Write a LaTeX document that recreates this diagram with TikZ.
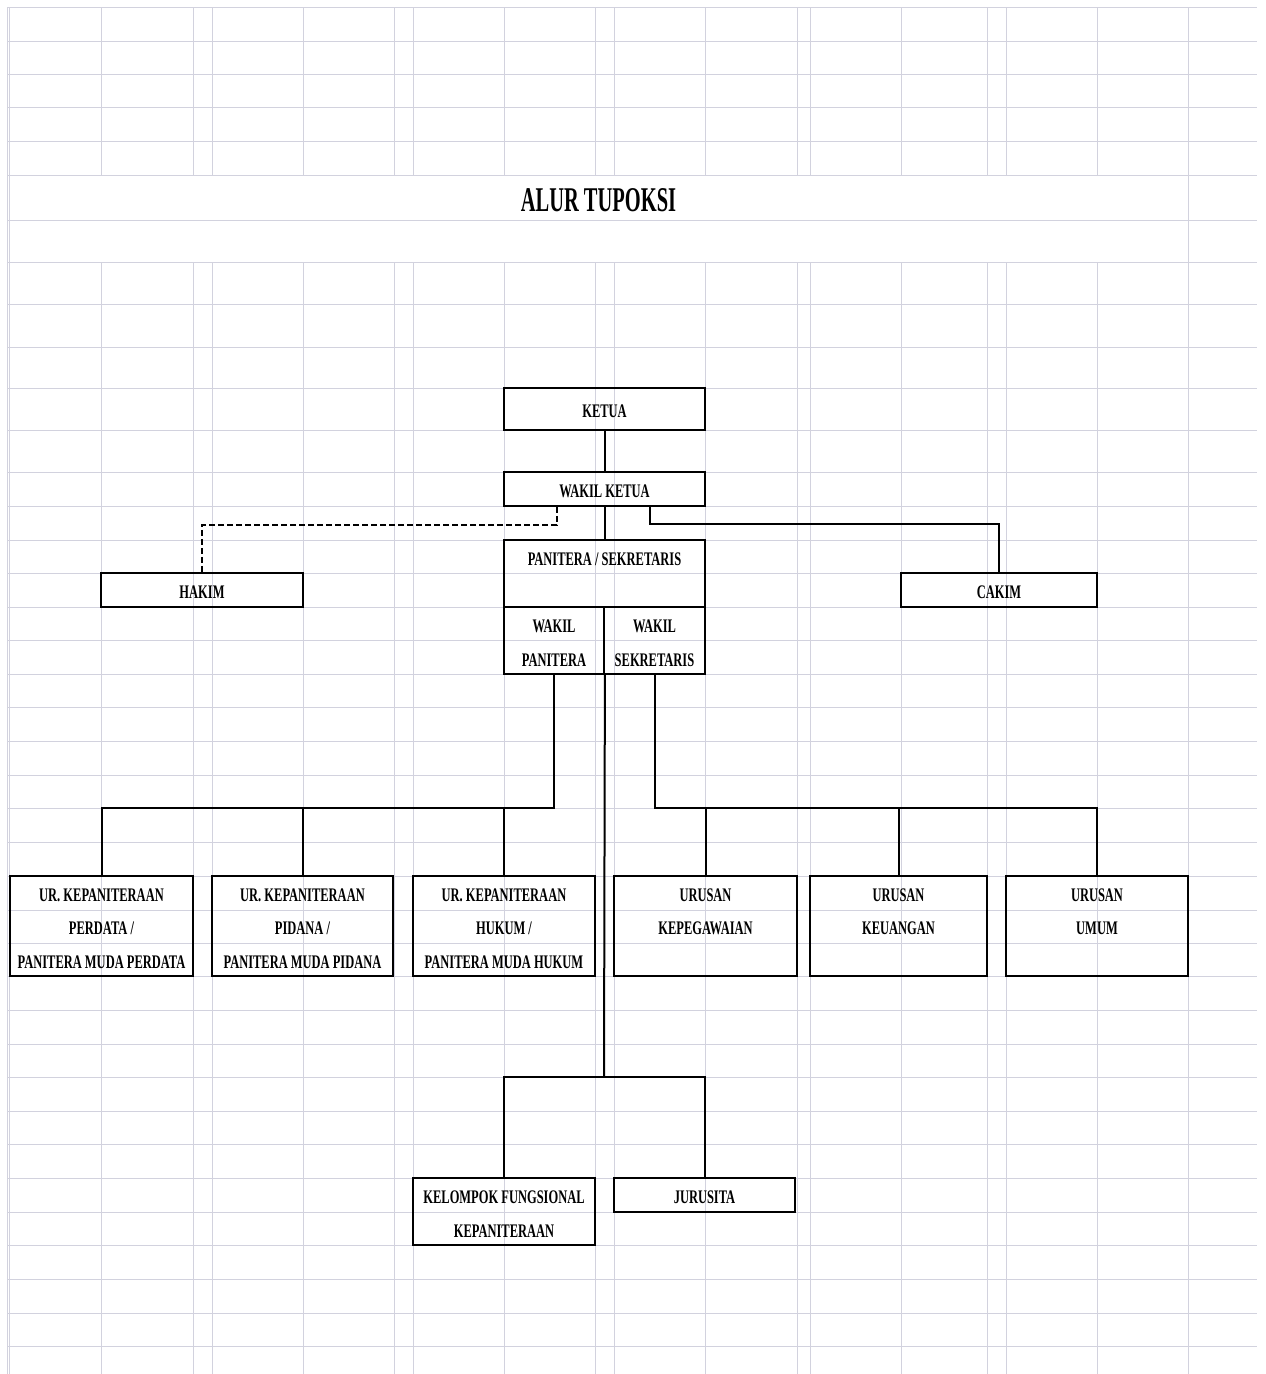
\documentclass[tikz,border=0pt]{standalone}
\usepackage{fontspec}
\newfontfamily\boxfont{Liberation Serif}[FakeStretch=0.65]
\newfontfamily\titlefont{Liberation Serif}[FakeStretch=0.59]
\newcommand{\rs}{\rule[-8pt]{0pt}{33.5pt}}
\definecolor{gridline}{RGB}{210,210,222}

\begin{document}
\begin{tikzpicture}
	[x=1pt,y=-1pt,
	box/.style={shape=rectangle,draw,line width=1.8pt,inner sep=0pt,align=center,
		font=\boxfont\bfseries\fontsize{19.2}{33.5}\selectfont},
	link/.style={line width=2pt}]
	\useasboundingbox (0,0) rectangle (1266,1374);
	\foreach \y in {7,41,74,107,141,175,220,262,304,347,388,430,472,506,540,573,607,640,674,707,741,775,808,842,876,910,943,976,1010,1044,1077,1111,1144,1178,1212,1245,1279,1313,1346}
		\draw[gridline,line width=1pt] (7,\y) -- (1257,\y);
	\foreach \x in {101,193,212,303,394,413,504,595,614,705,797,810,901,987,1006,1097}
	{
		\draw[gridline,line width=1pt] (\x,7) -- (\x,175);
		\draw[gridline,line width=1pt] (\x,262) -- (\x,1374);
	}
	\foreach \x in {7,9.5,1188}
		\draw[gridline,line width=1pt] (\x,7) -- (\x,1374);
	
	\node[font=\titlefont\bfseries\fontsize{34.7}{40}\selectfont,anchor=base] (title) at (598.5,211) {ALUR TUPOKSI};
	
	\node[box,minimum width=201pt,minimum height=42pt] (ketua) at (604.5,409) {\rs KETUA};
	\node[box,minimum width=201pt,minimum height=34pt] (wakilketua) at (604.5,489) {\rs WAKIL KETUA};
	\node[box,minimum width=201pt,minimum height=67pt] (panitera) at (604.5,573.5) {\rs PANITERA / SEKRETARIS\\\rs};
	\node[box,minimum width=100pt,minimum height=67pt] (wakilpan) at (554,640.5) {\rs WAKIL\\\rs PANITERA};
	\node[box,minimum width=101pt,minimum height=67pt] (wakilsek) at (654.5,640.5) {\rs WAKIL\\\rs SEKRETARIS};
	\node[box,minimum width=202pt,minimum height=34pt] (hakim) at (202,590) {\rs HAKIM};
	\node[box,minimum width=196pt,minimum height=34pt] (cakim) at (999,590) {\rs CAKIM};
	
	\node[box,minimum width=183pt,minimum height=100pt] (perdata) at (101.5,926) {\rs UR. KEPANITERAAN\\\rs PERDATA /\\\rs PANITERA MUDA PERDATA};
	\node[box,minimum width=181pt,minimum height=100pt] (pidana) at (302.5,926) {\rs UR. KEPANITERAAN\\\rs PIDANA /\\\rs PANITERA MUDA PIDANA};
	\node[box,minimum width=182pt,minimum height=100pt] (hukum) at (504,926) {\rs UR. KEPANITERAAN\\\rs HUKUM /\\\rs PANITERA MUDA HUKUM};
	\node[box,minimum width=183pt,minimum height=100pt] (kepegawaian) at (705.5,926) {\rs URUSAN\\\rs KEPEGAWAIAN\\\rs};
	\node[box,minimum width=177pt,minimum height=100pt] (keuangan) at (898.5,926) {\rs URUSAN\\\rs KEUANGAN\\\rs};
	\node[box,minimum width=182pt,minimum height=100pt] (umum) at (1097,926) {\rs URUSAN\\\rs UMUM\\\rs};
	
	\node[box,minimum width=182pt,minimum height=67pt] (kelompok) at (504,1211.5) {\rs KELOMPOK FUNGSIONAL\\\rs KEPANITERAAN};
	\node[box,minimum width=181pt,minimum height=34pt] (jurusita) at (704.5,1195) {\rs JURUSITA};
	
	\coordinate (hk) at (557,525);
	\coordinate (ck) at (650,524);
	\coordinate (busl) at (554,808);
	\coordinate (busr) at (654.5,808);
	\coordinate (spine) at (604,1077);
	
	\draw[link] (ketua) -- (wakilketua);
	\draw[link] (wakilketua) -- (panitera);
	\draw[link,dash pattern=on 6pt off 3pt] (hk |- wakilketua.south) -- (hk) -| (hakim.north);
	\draw[link] (ck |- wakilketua.south) -- (ck) -| (cakim.north);
	\draw[link] (wakilpan.south) -- (busl) -| (perdata.north);
	\draw[link] (wakilsek.south) -- (busr) -| (umum.north);
	\foreach \unit/\bus in {pidana/busl,hukum/busl,kepegawaian/busr,keuangan/busr}
		\draw[link] (\unit.north) -- (\unit.north |- \bus);
	\draw[link] (wakilpan.south east) -- (spine);
	\draw[link] (kelompok.north) |- (spine) -| (jurusita.north);
\end{tikzpicture}
\end{document}
